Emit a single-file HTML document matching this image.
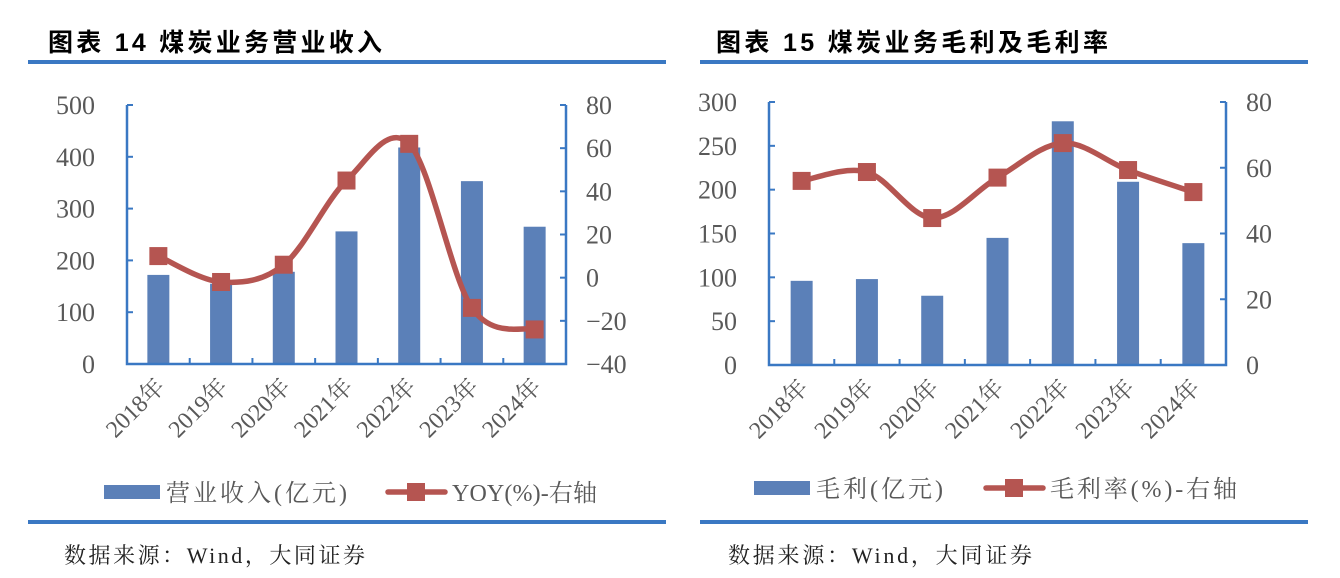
<!DOCTYPE html>
<html><head><meta charset="utf-8"><style>
body{margin:0;background:#fff;width:1340px;height:578px;overflow:hidden}
svg{display:block}
text{font-family:"Liberation Serif","Noto Serif CJK SC",serif}
</style></head><body>
<svg id="s" width="1340" height="578" xmlns="http://www.w3.org/2000/svg">
<text x="48" y="51" font-size="25" font-weight="bold" fill="#000" style="font-family:'Liberation Sans','Noto Sans CJK SC',sans-serif" textLength="334">图表 14 煤炭业务营业收入</text>
<text x="716" y="51" font-size="25" font-weight="bold" fill="#000" style="font-family:'Liberation Sans','Noto Sans CJK SC',sans-serif" textLength="392">图表 15 煤炭业务毛利及毛利率</text>
<rect x="28" y="60" width="638" height="4" fill="#3a78c3"/>
<rect x="700" y="60" width="608" height="4" fill="#3a78c3"/>
<rect x="28" y="520" width="638" height="4" fill="#3a78c3"/>
<rect x="700" y="520" width="608" height="4" fill="#3a78c3"/>
<text x="64" y="563" font-size="22" fill="#222" textLength="301">数据来源：Wind，大同证券</text>
<text x="728" y="563" font-size="22" fill="#222" textLength="304">数据来源：Wind，大同证券</text>
<g id="c1"></g><g id="c2"></g>
</svg>
<script>
const categories=["2018年","2019年","2020年","2021年","2022年","2023年","2024年"];
const revenue=[172,155,178,256,418,353,265];
const revenueYoy=[10,-2,6,45,62,-14,-24];
const revLeftTicks=[0,100,200,300,400,500];
const revRightTicks=[-40,-20,0,20,40,60,80];
const grossProfit=[96,98,79,145,278,209,139];
const grossMargin=[56,58.7,44.7,57,67.5,59.3,52.6];
const gpLeftTicks=[0,50,100,150,200,250,300];
const gpRightTicks=[0,20,40,60,80];
const NS="http://www.w3.org/2000/svg";
function mk(g,tag,at,txt){const e=document.createElementNS(NS,tag);for(const k in at)e.setAttribute(k,at[k]);if(txt!==undefined)e.textContent=txt;g.appendChild(e);return e;}
function smooth(p){let d=`M${p[0][0]},${p[0][1]}`;for(let i=0;i<p.length-1;i++){const p0=p[i-1]||p[i],p1=p[i],p2=p[i+1],p3=p[i+2]||p2;const c1=[p1[0]+(p2[0]-p0[0])/6,p1[1]+(p2[1]-p0[1])/6],c2=[p2[0]-(p3[0]-p1[0])/6,p2[1]-(p3[1]-p1[1])/6];d+=` C${c1[0]},${c1[1]} ${c2[0]},${c2[1]} ${p2[0]},${p2[1]}`;}return d;}
function chart(g,cfg){
 const {x0,x1,yT,yB,lMin,lMax,rMin,rMax,bars,line,lt,rt,leg}=cfg;
 const n=categories.length,cw=(x1-x0)/n;
 const yl=v=>yB-(v-lMin)/(lMax-lMin)*(yB-yT);
 const yr=v=>yB-(v-rMin)/(rMax-rMin)*(yB-yT);
 const cx=i=>x0+cw*(i+0.5);
 bars.forEach((v,i)=>{const r=mk(g,'rect',{x:cx(i)-11,y:yl(v),width:22,height:yB-yl(v),fill:'#5b80b8'});
  
  });
 const ax=mk(g,'path',{d:`M${x0},${yT}V${yB}H${x1}V${yT}`,fill:'none',stroke:'#3a78c3','stroke-width':2.5});
 
 lt.forEach(v=>{const y=yl(v);mk(g,'line',{x1:x0,x2:x0+6,y1:y,y2:y,stroke:'#3a78c3','stroke-width':2});
  const t=mk(g,'text',{x:x0-32,y:y+9,'font-size':26,fill:'#595959','text-anchor':'end'},v);
  });
 rt.forEach(v=>{const y=yr(v);mk(g,'line',{x1:x1-6,x2:x1,y1:y,y2:y,stroke:'#3a78c3','stroke-width':2});
  const t=mk(g,'text',{x:x1+20,y:y+9,'font-size':26,fill:'#595959'},v<0?'−'+(-v):v);
  });
 for(let i=1;i<n;i++){const x=x0+cw*i;mk(g,'line',{x1:x,x2:x,y1:yB-6,y2:yB,stroke:'#3a78c3','stroke-width':2});}
 categories.forEach((c,i)=>{const t=mk(g,'text',{transform:`translate(${cx(i)+8},${yB+24}) rotate(-45)`,'font-size':24,fill:'#595959','text-anchor':'end'},c);
  });
 const pts=line.map((v,i)=>[cx(i),yr(v)]);
 const lp=mk(g,'path',{d:smooth(pts),fill:'none',stroke:'#b55551','stroke-width':5.5,'stroke-linecap':'round'});
 
 pts.forEach(p=>{const m=mk(g,'rect',{x:p[0]-9,y:p[1]-9,width:18,height:18,fill:'#b55551'});
  });
 const ly=leg.y;
 const lb=mk(g,'rect',{x:leg.bx,y:ly-7,width:56,height:14,fill:'#5b80b8'});
 
 const t1=mk(g,'text',{x:leg.bx+62,y:ly+9,'font-size':24,fill:'#595959',textLength:leg.w1},leg.t1);
 
 mk(g,'line',{x1:leg.lx,x2:leg.lx+57,y1:ly,y2:ly,stroke:'#b55551','stroke-width':5.5,'stroke-linecap':'round'});
 const lm=mk(g,'rect',{x:leg.lx+19,y:ly-9,width:18,height:18,fill:'#b55551'});
 
 const t2=mk(g,'text',{x:leg.lx+64,y:ly+9,'font-size':24,fill:'#595959',textLength:leg.w2},leg.t2);
 
}
chart(document.getElementById('c1'),{x0:127,x1:566,yT:105,yB:364,lMin:0,lMax:500,rMin:-40,rMax:80,bars:revenue,line:revenueYoy,lt:revLeftTicks,rt:revRightTicks,leg:{y:492,bx:104,lx:388,t1:'营业收入(亿元)',t2:'YOY(%)-右轴',w1:181,w2:145}});
chart(document.getElementById('c2'),{x0:769,x1:1226,yT:102,yB:365,lMin:0,lMax:300,rMin:0,rMax:80,bars:grossProfit,line:grossMargin,lt:gpLeftTicks,rt:gpRightTicks,leg:{y:488,bx:754,lx:986,t1:'毛利(亿元)',t2:'毛利率(%)-右轴',w1:127,w2:187}});
</script>
</body></html>
